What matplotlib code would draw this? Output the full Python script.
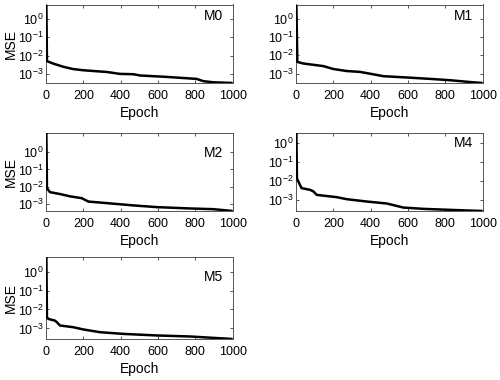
import matplotlib
matplotlib.use("Agg")
import matplotlib.pyplot as plt
from matplotlib.ticker import NullLocator, FixedLocator

plt.rcParams['font.family'] = ['Liberation Sans', 'DejaVu Sans']
plt.rcParams['mathtext.default'] = 'regular'

models = ["M0", "M1", "M2", "M4", "M5"]

ep_M0 = [2, 5, 39, 93, 146, 200, 325, 396, 468, 504, 646, 807, 843, 896, 1000]
mse_M0 = [6.3, 4.9e-3, 3.6e-3, 2.4e-3, 1.8e-3, 1.55e-3, 1.25e-3, 9.8e-4, 9.4e-4, 8.0e-4, 6.7e-4, 5.2e-4, 3.9e-4, 3.4e-4, 3.1e-4]

ep_M1 = [2, 7, 39, 146, 200, 271, 343, 396, 468, 593, 718, 825, 932, 1000]
mse_M1 = [6.0, 4.4e-3, 3.6e-3, 2.6e-3, 1.8e-3, 1.4e-3, 1.25e-3, 1.0e-3, 7.3e-4, 6.2e-4, 5.2e-4, 4.4e-4, 3.5e-4, 3.1e-4]

ep_M2 = [2, 5, 21, 75, 129, 191, 227, 325, 468, 593, 771, 896, 1000]
mse_M2 = [12.6, 8.3e-3, 4.9e-3, 3.8e-3, 2.8e-3, 2.2e-3, 1.4e-3, 1.14e-3, 8.4e-4, 6.7e-4, 5.6e-4, 5.1e-4, 4.0e-4]

ep_M4 = [2, 5, 12, 30, 75, 93, 111, 218, 271, 379, 486, 575, 682, 825, 1000]
mse_M4 = [3.4, 1.4e-2, 9.7e-3, 4.3e-3, 3.5e-3, 2.9e-3, 1.9e-3, 1.44e-3, 1.13e-3, 8.5e-4, 6.7e-4, 4.1e-4, 3.5e-4, 3.1e-4, 2.7e-4]

ep_M5 = [2, 5, 12, 48, 57, 75, 146, 200, 289, 414, 593, 771, 1000]
mse_M5 = [5.8, 4.0e-3, 3.2e-3, 2.6e-3, 2.2e-3, 1.44e-3, 1.17e-3, 8.9e-4, 6.4e-4, 5.2e-4, 4.3e-4, 3.8e-4, 2.8e-4]

epochs = [ep_M0, ep_M1, ep_M2, ep_M4, ep_M5]
mses = [mse_M0, mse_M1, mse_M2, mse_M4, mse_M5]

x_ticks = [0, 200, 400, 600, 800, 1000]
y_ticks = [1e-3, 1e-2, 1e-1, 1e0]

W, H = 500, 380
fig = plt.figure(figsize=(5.0, 3.8), dpi=100)

# axes boxes in pixels: (left, top, right, bottom)
boxes = [
    (46, 4.5, 232.7, 83),
    (296, 4.5, 482.7, 83),
    (46, 133, 232.7, 211),
    (296, 133, 482.7, 211),
    (46, 257, 232.7, 339),
]
label_y = [0.85, 0.85, 0.74, 0.87, 0.76]

for i, (name, ep, m) in enumerate(zip(models, epochs, mses)):
    l, t, r, b = boxes[i]
    ax = fig.add_axes([l / W, 1 - b / H, (r - l) / W, (b - t) / H])
    ax.plot(ep, m, color='black', lw=1.8, solid_joinstyle='round',
            solid_capstyle='butt', zorder=3)
    ax.set_yscale('log')
    ax.set_xlim(0, 1000)
    ax.set_ylim(min(m), max(m))
    ax.xaxis.set_major_locator(FixedLocator(x_ticks))
    ax.yaxis.set_major_locator(FixedLocator(y_ticks))
    ax.yaxis.set_minor_locator(NullLocator())
    ax.xaxis.set_minor_locator(NullLocator())
    ax.tick_params(direction='in', length=2.5, width=0.6, top=True, right=True,
                   labelsize=9, color='#333333')
    ax.tick_params(axis='x', pad=5)
    ax.tick_params(axis='y', pad=2)
    for s in ax.spines.values():
        s.set_linewidth(0.7)
        s.set_color('#555555')
    ax.set_xlabel('Epoch', fontsize=10, labelpad=3)
    if i % 2 == 0:
        ax.set_ylabel('MSE', fontsize=10, labelpad=0)
    ax.text(0.95, label_y[i], name, transform=ax.transAxes, ha='right',
            va='center', fontsize=10)

fig.savefig('out.png', dpi=100)
